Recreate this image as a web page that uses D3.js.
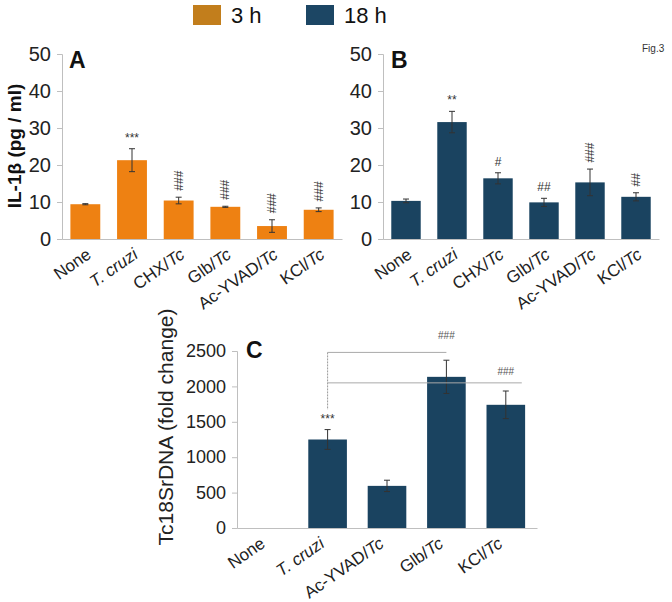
<!DOCTYPE html>
<html><head><meta charset="utf-8">
<script src="https://cdn.jsdelivr.net/npm/d3@7"></script>
<style>body{margin:0;background:#fff}svg{display:block}text{font-family:"Liberation Sans",Arial,sans-serif}</style>
</head><body><svg id="c" width="672" height="602"></svg>
<script>
// Data
const catsAB = ["None","T. cruzi","CHX/Tc","Glb/Tc","Ac-YVAD/Tc","KCl/Tc"];
const valsA = [9.4, 21.3, 10.4, 8.7, 3.5, 7.9];
const errA  = [0.15, 3.1, 0.9, 0.15, 1.7, 0.5];
const sigA  = ["", "***", "###", "###", "###", "###"];
const sigARot = [false, false, true, true, true, true];
const valsB = [10.3, 31.6, 16.4, 9.9, 15.3, 11.4];
const errB  = [0.5, 2.9, 1.5, 1.1, 3.6, 1.1];
const sigB  = ["", "**", "#", "##", "###", "##"];
const sigBRot = [false, false, false, false, true, true];
const catsC = ["None","T. cruzi","Ac-YVAD/Tc","Glb/Tc","KCl/Tc"];
const valsC = [0, 1250, 595, 2135, 1740];
const errC  = [0, 140, 80, 235, 195];
const ticksAB = [0,10,20,30,40,50];
const ticksC = [0,500,1000,1500,2000,2500];
const legendLabels = ["3 h","18 h"];
const legendColors = ["#C27E1C","#1C4664"];

const svg = d3.select("#c");
const orange = "#EE8112", navy = "#1A4360", axisCol = "#BFBFBF";

function xLabel(g, name){
  const t = g.append("text");
  const parts = name === "T. cruzi" ? [["T. cruzi", true]] :
    name.endsWith("/Tc") ? [[name.slice(0,-2), false],["Tc", true]] : [[name,false]];
  parts.forEach(p => t.append("tspan").text(p[0]).attr("font-style", p[1] ? "italic" : "normal"));
  return t;
}

function panel(opts){
  const {cats, vals, errs, x0, x1, y0, y1, max, ticks, color, pi, po, letter, letterX, letterY, tickSize, labelSize, lblDx} = opts;
  const x = d3.scaleBand().domain(cats).range([x0, x1]).paddingInner(pi).paddingOuter(po);
  const y = d3.scaleLinear().domain([0, max]).range([y0, y1]);
  const g = svg.append("g");
  const ya = g.append("g").attr("transform", `translate(${x0},0)`)
    .call(d3.axisLeft(y).tickValues(ticks).tickFormat(d3.format("d")).tickSize(5).tickPadding(6));
  ya.select(".domain").attr("stroke", axisCol);
  ya.selectAll(".tick line").attr("stroke", axisCol);
  ya.selectAll(".tick text").attr("font-size", tickSize).attr("fill", "#222").attr("font-family", '"Liberation Sans",Arial,sans-serif');
  const xa = g.append("g").attr("transform", `translate(0,${y0})`)
    .call(d3.axisBottom(x).tickSize(0).tickFormat(""));
  xa.select(".domain").attr("stroke", axisCol);
  g.selectAll("rect.bar").data(cats).join("rect")
    .attr("x", d => x(d)).attr("width", x.bandwidth())
    .attr("y", (d,i) => y(vals[i])).attr("height", (d,i) => y(0) - y(vals[i]))
    .attr("fill", color);
  cats.forEach((d,i) => {
    if (!vals[i]) return;
    const cx = x(d) + x.bandwidth()/2;
    const hi = y(vals[i] + errs[i]), lo = y(vals[i] - errs[i]);
    g.append("line").attr("x1", cx).attr("x2", cx).attr("y1", hi).attr("y2", lo).attr("stroke", "#333").attr("stroke-width", 1);
    [hi, lo].forEach(yy => g.append("line").attr("x1", cx-3).attr("x2", cx+3).attr("y1", yy).attr("y2", yy).attr("stroke", "#333").attr("stroke-width", 1));
  });
  cats.forEach(d => {
    const cx = x(d) + x.bandwidth()/2;
    xLabel(g, d).attr("font-size", labelSize).attr("fill", "#222").attr("text-anchor", "end")
      .attr("transform", `translate(${cx + lblDx},${y0 + 18}) rotate(-35)`);
  });
  g.append("text").attr("x", letterX).attr("y", letterY).attr("font-size", 23).attr("font-weight", "bold").attr("fill", "#111").text(letter);
  return {x, y, g};
}

function sigs(p, cats, vals, errs, labels, rot){
  labels.forEach((s,i) => {
    if (!s) return;
    const cx = p.x(cats[i]) + p.x.bandwidth()/2;
    const top = p.y(vals[i] + errs[i]);
    if (rot[i]) {
      const len = s.length * 7;
      p.g.append("text").attr("font-size", 12).attr("fill", "#333").attr("text-anchor", "middle")
        .attr("transform", `translate(${cx + 4},${top - 6 - len/2}) rotate(-90)`).text(s);
    } else {
      p.g.append("text").attr("x", cx).attr("y", top - 7).attr("font-size", 12).attr("fill", "#333")
        .attr("text-anchor", "middle").text(s);
    }
  });
}

const pA = panel({cats: catsAB, vals: valsA, errs: errA, x0: 62, x1: 342, y0: 239, y1: 54, max: 50, ticks: ticksAB,
  color: orange, pi: 0.36, po: 0.18, letter: "A", letterX: 69, letterY: 68, tickSize: 20, labelSize: 17, lblDx: 7});
sigs(pA, catsAB, valsA, errA, sigA, sigARot);

const pB = panel({cats: catsAB, vals: valsB, errs: errB, x0: 383, x1: 659, y0: 239, y1: 54, max: 50, ticks: ticksAB,
  color: navy, pi: 0.36, po: 0.18, letter: "B", letterX: 391, letterY: 68, tickSize: 20, labelSize: 17, lblDx: 7});
sigs(pB, catsAB, valsB, errB, sigB, sigBRot);

const pC = panel({cats: catsC, vals: valsC, errs: errC, x0: 237, x1: 537, y0: 528, y1: 351, max: 2500, ticks: ticksC,
  color: navy, pi: 0.35, po: 0.2, letter: "C", letterX: 246, letterY: 358, tickSize: 18, labelSize: 17, lblDx: -2});

{
  const cx = i => pC.x(catsC[i]) + pC.x.bandwidth()/2;
  const topT = pC.y(valsC[1] + errC[1]);
  pC.g.append("text").attr("x", cx(1)).attr("y", topT - 7).attr("font-size", 12).attr("fill", "#333").attr("text-anchor", "middle").text("***");
  const yUp = pC.y(2480), yLo = pC.y(2050);
  pC.g.append("line").attr("x1", cx(1)).attr("x2", cx(1)).attr("y1", yUp).attr("y2", topT - 20).attr("stroke", "#999").attr("stroke-dasharray", "2,1");
  pC.g.append("line").attr("x1", cx(1)).attr("x2", cx(3)).attr("y1", yUp).attr("y2", yUp).attr("stroke", "#aaa");
  pC.g.append("line").attr("x1", cx(1)).attr("x2", cx(4) + 16).attr("y1", yLo).attr("y2", yLo).attr("stroke", "#aaa");
  pC.g.append("text").attr("x", cx(3)).attr("y", yUp - 13).attr("font-size", 10).attr("fill", "#555").attr("text-anchor", "middle").text("###");
  pC.g.append("text").attr("x", cx(4)).attr("y", yLo - 8).attr("font-size", 10).attr("fill", "#555").attr("text-anchor", "middle").text("###");
}

svg.append("text").attr("transform", "translate(21,146) rotate(-90)").attr("text-anchor", "middle")
  .attr("font-size", 19).attr("font-weight", "bold").attr("fill", "#111").text("IL-1β  (pg / ml)");
svg.append("text").attr("transform", "translate(173,427) rotate(-90)").attr("text-anchor", "middle")
  .attr("font-size", 21).attr("fill", "#222").text("Tc18SrDNA (fold change)");

const lx = [193, 306];
legendLabels.forEach((l,i) => {
  svg.append("rect").attr("x", lx[i]).attr("y", 5).attr("width", 28).attr("height", 20).attr("fill", legendColors[i]);
  svg.append("text").attr("x", lx[i] + 38).attr("y", 23).attr("font-size", 22).attr("fill", "#111").text(l);
});
svg.append("text").attr("x", 642).attr("y", 52).attr("font-size", 10).attr("fill", "#333").text("Fig.3");
</script></body></html>
